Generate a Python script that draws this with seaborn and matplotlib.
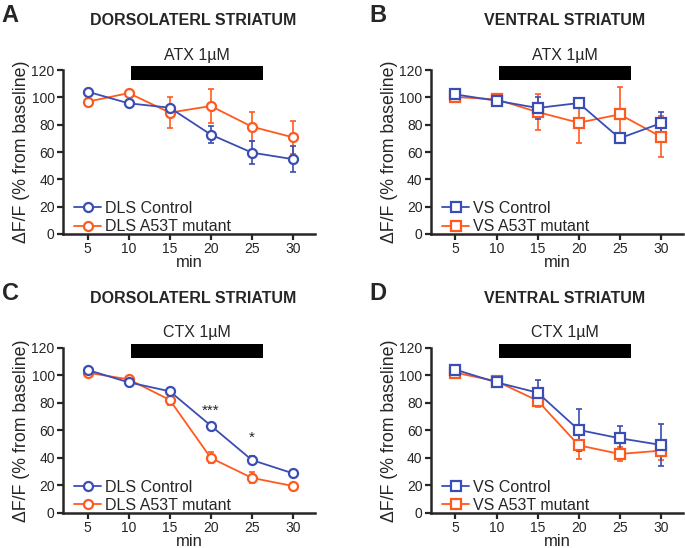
import numpy as np
import pandas as pd
import matplotlib
matplotlib.use("Agg")
import matplotlib.pyplot as plt
import seaborn as sns

# ------------------------------------------------------------
# Data (mean, SEM) per panel
# ------------------------------------------------------------
minutes = [5, 10, 15, 20, 25, 30]

# A: dorsolateral striatum, ATX
a_ctrl = [104.2, 95.7, 92.5, 72.8, 59.6, 54.8]
a_ctrl_err = [1.5, 1.5, 2.0, 6.3, 8.6, 9.6]
a_mut = [96.9, 103.2, 88.9, 93.7, 78.6, 70.8]
a_mut_err = [1.0, 1.0, 11.6, 12.2, 10.7, 12.0]

# B: ventral striatum, ATX
b_ctrl = [102.2, 97.6, 92.3, 95.9, 70.1, 81.1]
b_ctrl_err = [1.5, 1.5, 8.0, 2.0, 3.0, 8.5]
b_mut = [100.3, 98.6, 89.3, 81.5, 87.6, 71.3]
b_mut_err = [1.0, 1.0, 13.0, 14.6, 20.0, 15.0]

# C: dorsolateral striatum, CTX
c_ctrl = [104.0, 95.0, 88.5, 63.5, 38.5, 28.8]
c_ctrl_err = [1.0, 1.0, 2.0, 1.5, 3.0, 2.5]
c_mut = [102.0, 97.2, 82.2, 40.0, 25.5, 19.6]
c_mut_err = [1.0, 1.0, 4.0, 4.0, 4.0, 1.0]

# D: ventral striatum, CTX
d_ctrl = [104.2, 95.0, 87.5, 60.4, 54.3, 49.5]
d_ctrl_err = [1.0, 1.5, 9.0, 15.0, 9.0, 15.0]
d_mut = [102.0, 95.8, 81.7, 49.2, 42.9, 45.3]
d_mut_err = [1.0, 1.0, 5.0, 10.0, 5.0, 7.0]

panel_letters = ["A", "B", "C", "D"]
panel_titles = ["DORSOLATERL STRIATUM", "VENTRAL STRIATUM",
                "DORSOLATERL STRIATUM", "VENTRAL STRIATUM"]
drug_labels = ["ATX 1\u00b5M", "ATX 1\u00b5M", "CTX 1\u00b5M", "CTX 1\u00b5M"]
ctrl_labels = ["DLS Control", "VS Control", "DLS Control", "VS Control"]
mut_labels = ["DLS A53T mutant", "VS A53T mutant", "DLS A53T mutant", "VS A53T mutant"]
markers = ["o", "s", "o", "s"]
drug_start, drug_end = 10.3, 26.4

blue = "#3a4db5"
orange = "#ff5a1e"

sns.set_style("ticks")
plt.rcParams["font.family"] = ["Liberation Sans", "DejaVu Sans"]

fig = plt.figure(figsize=(6.85, 5.48), dpi=100)
rects = [[0.092, 0.573, 0.368, 0.299], [0.629, 0.573, 0.368, 0.299],
         [0.092, 0.064, 0.368, 0.301], [0.629, 0.064, 0.368, 0.301]]
title_dx = [0.19, 0.196, 0.19, 0.196]

panels = [(a_ctrl, a_ctrl_err, a_mut, a_mut_err),
          (b_ctrl, b_ctrl_err, b_mut, b_mut_err),
          (c_ctrl, c_ctrl_err, c_mut, c_mut_err),
          (d_ctrl, d_ctrl_err, d_mut, d_mut_err)]

for i, (ctrl, ctrl_err, mut, mut_err) in enumerate(panels):
    ax = fig.add_axes(rects[i])
    m = markers[i]

    # error bars first, then lines with open markers
    ax.errorbar(minutes, mut, yerr=mut_err, fmt="none", ecolor=orange,
                elinewidth=1.2, capsize=2, capthick=1.2, zorder=2)
    ax.errorbar(minutes, ctrl, yerr=ctrl_err, fmt="none", ecolor=blue,
                elinewidth=1.2, capsize=2, capthick=1.2, zorder=3)

    df_mut = pd.DataFrame({"min": minutes, "val": mut})
    df_ctrl = pd.DataFrame({"min": minutes, "val": ctrl})
    sns.lineplot(data=df_mut, x="min", y="val", ax=ax, color=orange, marker=m,
                 markersize=6.5, markerfacecolor="white", markeredgecolor=orange,
                 markeredgewidth=1.6, linewidth=1.3, label=mut_labels[i], zorder=4)
    sns.lineplot(data=df_ctrl, x="min", y="val", ax=ax, color=blue, marker=m,
                 markersize=6.5, markerfacecolor="white", markeredgecolor=blue,
                 markeredgewidth=1.6, linewidth=1.3, label=ctrl_labels[i], zorder=5)

    ax.set_xlim(2, 32.7)
    ax.set_ylim(0, 120)
    ax.set_xticks(minutes)
    ax.set_yticks([0, 20, 40, 60, 80, 100, 120])
    ax.tick_params(labelsize=10, width=1.6, length=4, pad=2)
    for s in ["left", "bottom"]:
        ax.spines[s].set_linewidth(1.8)
    sns.despine(ax=ax)
    ax.set_xlabel("min", fontsize=12, labelpad=-1)
    ax.set_ylabel("\u0394F/F (% from baseline)", fontsize=12.8, labelpad=1)

    # drug application bar
    ax.fill_between([drug_start, drug_end], 113, 123, color="black",
                    clip_on=False, linewidth=0)
    ax.text((drug_start + drug_end) / 2, 131, drug_labels[i], ha="center",
            va="center", fontsize=11.5)

    handles, labels = ax.get_legend_handles_labels()
    ax.legend(handles[::-1], labels[::-1], loc="lower left",
              bbox_to_anchor=(0.025, -0.03), frameon=False,
              fontsize=11.5, handlelength=1.7, handletextpad=0.25,
              labelspacing=0.22, borderaxespad=0.1, borderpad=0.2)

    x0 = rects[i][0]
    ytop = rects[i][1] + rects[i][3]
    fig.text(x0 + title_dx[i], ytop + 0.09, panel_titles[i], ha="center",
             va="center", fontsize=11.5, fontweight="bold")
    fig.text(x0 - 0.077, ytop + 0.1, panel_letters[i], ha="center", va="center",
             fontsize=17, fontweight="bold")

# significance marks (panel C)
axc = fig.axes[2]
axc.text(20, 74.5, "***", ha="center", va="center", fontsize=11)
axc.text(25, 55, "*", ha="center", va="center", fontsize=11)

fig.savefig("out.png", dpi=100)
